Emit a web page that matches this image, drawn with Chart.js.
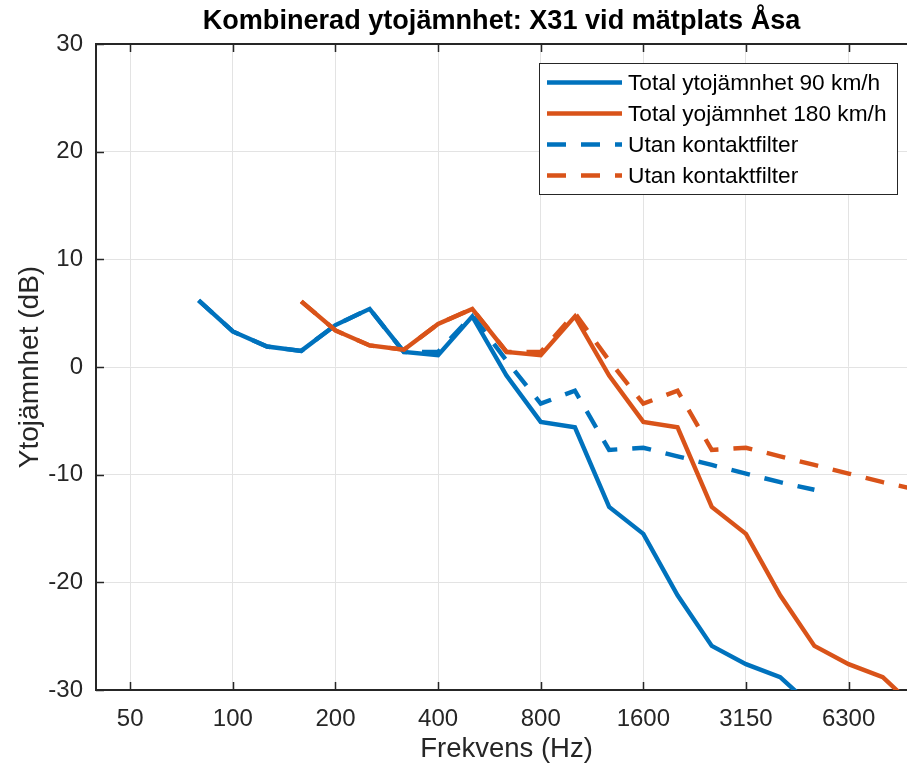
<!DOCTYPE html>
<html>
<head>
<meta charset="utf-8">
<script src="https://cdn.jsdelivr.net/npm/chart.js@4.4.1/dist/chart.umd.min.js"></script>
<style>
  html, body { margin: 0; padding: 0; background: #ffffff; overflow: hidden; }
  #wrap { width: 917px; height: 769px; }
</style>
</head>
<body>
<div id="wrap"><canvas id="c" width="917" height="769"></canvas></div>
<script>
// Third-octave band centre frequencies (Hz); x position = band index
const bands = [40, 50, 63, 80, 100, 125, 160, 200, 250, 315, 400, 500, 630, 800, 1000, 1250, 1600, 2000, 2500, 3150, 4000, 5000, 6300, 8000, 10000];
const xTickLabels = ['50', '100', '200', '400', '800', '1600', '3150', '6300'];
const yTickValues = [-30, -20, -10, 0, 10, 20, 30];

const seriesLabels = ['Total ytojämnhet 90 km/h', 'Total yojämnhet 180 km/h', 'Utan kontaktfilter', 'Utan kontaktfilter'];

// Values per band (null = no value)
const total90 = [null, null, null, 6.2, 3.3, 1.9, 1.5, 3.9, 5.4, 1.4, 1.1, 4.7, -0.8, -5.1, -5.6, -13.0, -15.5, -21.2, -25.9, -27.6, -28.8, -31.7, null, null, null];
const total180 = [null, null, null, null, null, null, 6.1, 3.4, 2.0, 1.6, 4.0, 5.4, 1.4, 1.1, 4.7, -0.8, -5.1, -5.6, -13.0, -15.5, -21.2, -25.9, -27.6, -28.8, -31.8];
const utan90 = [null, null, null, 6.2, 3.3, 1.9, 1.5, 3.9, 5.4, 1.4, 1.4, 4.8, 0.6, -3.4, -2.2, -7.7, -7.5, -8.3, -9.1, -9.9, -10.7, -11.4, null, null, null];
const utan180 = [null, null, null, null, null, null, 6.1, 3.4, 2.0, 1.6, 4.0, 5.4, 1.4, 1.4, 5.0, 0.6, -3.4, -2.2, -7.7, -7.5, -8.3, -9.1, -9.9, -10.7, -11.4];

const BLUE = '#0072BD';
const ORANGE = '#D95319';
const AX = '#262626';
const FONT = "'Liberation Sans', Arial, Helvetica, sans-serif";
const DASH = [19, 15];
const LW = 4.4;

const tickIdx = xTickLabels.map(l => bands.indexOf(Number(l)));
const toPts = arr => arr.map((v, i) => ({ x: i, y: v })).filter(p => p.y !== null);

const boxPlugin = {
  id: 'boxAndTicks',
  afterLayout(chart) {
    if (chart.titleBlock) {
      chart.titleBlock.left = chart.chartArea.left - 10;
      chart.titleBlock.right = chart.chartArea.right;
    }
  },
  afterDatasetsDraw(chart) {
    const { ctx, chartArea: a, scales } = chart;
    ctx.save();
    ctx.strokeStyle = AX;
    ctx.lineWidth = 2;
    ctx.beginPath();
    ctx.moveTo(a.left - 1, a.top);
    ctx.lineTo(a.right, a.top);
    ctx.stroke();
    ctx.lineWidth = 1.5;
    const tl = 8;
    tickIdx.forEach(v => {
      const x = Math.round(scales.x.getPixelForValue(v)) + 0.5;
      ctx.beginPath();
      ctx.moveTo(x, a.bottom); ctx.lineTo(x, a.bottom - tl);
      ctx.moveTo(x, a.top); ctx.lineTo(x, a.top + tl);
      ctx.stroke();
    });
    yTickValues.forEach(v => {
      const y = Math.round(scales.y.getPixelForValue(v)) + 0.5;
      ctx.beginPath();
      ctx.moveTo(a.left, y); ctx.lineTo(a.left + tl, y);
      ctx.stroke();
    });
    ctx.restore();
  },
  afterDraw(chart) {
    // legend box inside the plot (upper right)
    const { ctx } = chart;
    const bx = 539.5, by = 63.5, bw = 358, bh = 131;
    ctx.save();
    ctx.fillStyle = '#ffffff';
    ctx.fillRect(bx, by, bw, bh);
    ctx.strokeStyle = AX;
    ctx.lineWidth = 1;
    ctx.strokeRect(bx, by, bw, bh);
    ctx.font = '22.7px ' + FONT;
    ctx.textBaseline = 'middle';
    ctx.textAlign = 'left';
    const ds = chart.data.datasets;
    [0, 1, 2, 3].forEach((di, k) => {
      const d = ds[di];
      const y = 82.5 + k * 31;
      ctx.strokeStyle = d.borderColor;
      ctx.lineWidth = LW;
      ctx.lineCap = 'butt';
      ctx.setLineDash(d.borderDash || []);
      ctx.beginPath();
      ctx.moveTo(547, y); ctx.lineTo(622, y);
      ctx.stroke();
      ctx.setLineDash([]);
      ctx.fillStyle = '#000000';
      ctx.fillText(d.label, 628, y + 1);
    });
    ctx.restore();
  }
};

new Chart(document.getElementById('c'), {
  type: 'line',
  data: {
    datasets: [
      { label: seriesLabels[0], data: toPts(total90), borderColor: BLUE, borderWidth: LW, pointRadius: 0, fill: false, tension: 0, clip: 0, order: 3 },
      { label: seriesLabels[1], data: toPts(total180), borderColor: ORANGE, borderWidth: LW, pointRadius: 0, fill: false, tension: 0, clip: 0, order: 2 },
      { label: seriesLabels[2], data: toPts(utan90), borderColor: BLUE, borderWidth: LW, borderDash: DASH, pointRadius: 0, fill: false, tension: 0, clip: 0, order: 1 },
      { label: seriesLabels[3], data: toPts(utan180), borderColor: ORANGE, borderWidth: LW, borderDash: DASH, pointRadius: 0, fill: false, tension: 0, clip: 0, order: 0 }
    ]
  },
  options: {
    responsive: false,
    animation: false,
    devicePixelRatio: 1,
    layout: { padding: { left: 0, right: 0, top: 0, bottom: 0 } },
    plugins: {
      legend: { display: false },
      tooltip: { enabled: false },
      title: {
        display: true,
        text: 'Kombinerad ytojämnhet: X31 vid mätplats Åsa',
        color: '#000000',
        font: { family: FONT, size: 27.1, weight: 'bold', lineHeight: 1.2 },
        padding: { top: 5, bottom: 6.5 }
      }
    },
    scales: {
      x: {
        type: 'linear',
        min: 0,
        max: 24,
        afterBuildTicks: s => { s.ticks = tickIdx.map(v => ({ value: v })); },
        afterFit: s => { s.height = 79; },
        ticks: {
          autoSkip: false,
          maxRotation: 0,
          color: AX,
          padding: 15,
          font: { family: FONT, size: 24 },
          callback: v => { const k = tickIdx.indexOf(v); return k >= 0 ? xTickLabels[k] : ''; }
        },
        grid: { color: '#e3e3e3', lineWidth: 1, drawTicks: false },
        border: { display: true, color: AX, width: 2 },
        title: {
          display: true,
          text: 'Frekvens (Hz)',
          color: AX,
          font: { family: FONT, size: 27.5, lineHeight: 1.2 },
          padding: { top: 0, bottom: 3.5 }
        }
      },
      y: {
        min: -30,
        max: 30,
        afterBuildTicks: s => { s.ticks = yTickValues.map(v => ({ value: v })); },
        afterFit: s => { s.width = 96; },
        ticks: {
          color: AX,
          padding: 13,
          font: { family: FONT, size: 24 }
        },
        grid: { color: '#e3e3e3', lineWidth: 1, drawTicks: false },
        border: { display: true, color: AX, width: 2 },
        title: {
          display: true,
          text: 'Ytojämnhet (dB)',
          color: AX,
          font: { family: FONT, size: 28, lineHeight: 1.2 },
          padding: { top: 13, bottom: 0 }
        }
      }
    }
  },
  plugins: [boxPlugin]
});
</script>
</body>
</html>
